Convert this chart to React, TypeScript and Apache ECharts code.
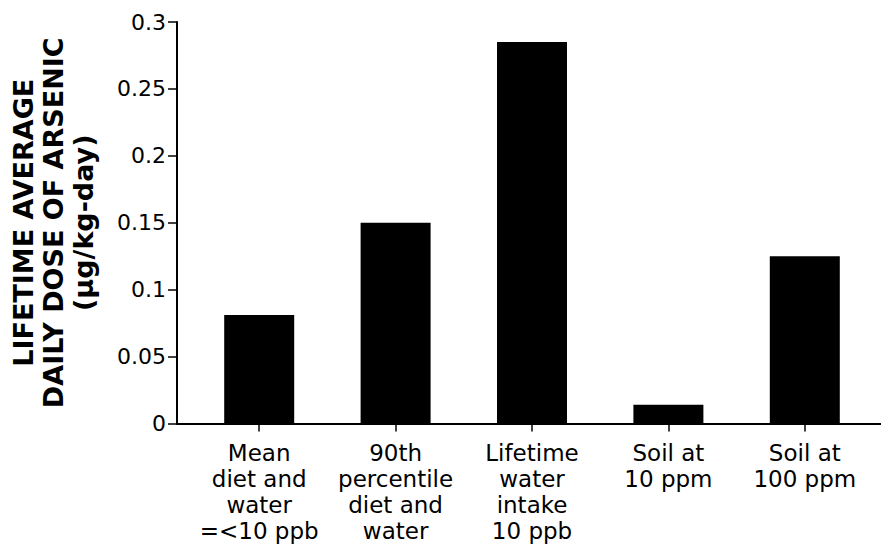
import React, { useEffect, useRef } from "react";
import * as echarts from "echarts";

const categories = [
  "Mean\ndiet and\nwater\n=<10 ppb",
  "90th\npercentile\ndiet and\nwater",
  "Lifetime\nwater\nintake\n10 ppb",
  "Soil at\n10 ppm",
  "Soil at\n100 ppm",
];
const doseValues = [0.081, 0.15, 0.285, 0.014, 0.125];
const yAxisTitle = "LIFETIME AVERAGE\nDAILY DOSE OF ARSENIC\n(µg/kg-day)";

export default function App() {
  const ref = useRef<HTMLDivElement>(null);
  useEffect(() => {
    document.body.style.margin = "0";
    if (!ref.current) return;
    const chart = echarts.init(ref.current, undefined, { renderer: "svg" });
    const font = "DejaVu Sans";
    chart.setOption({
      animation: false,
      backgroundColor: "#ffffff",
      grid: [
        { left: 191, right: 8, top: 22, bottom: 122.5 },
        { left: 177, right: 0, top: 22, bottom: 122.5 },
      ],
      xAxis: [
        {
          type: "category",
          gridIndex: 0,
          data: categories,
          axisLine: { show: false },
          axisTick: {
            show: true,
            alignWithLabel: true,
            length: 8,
            lineStyle: { color: "#000", width: 1.5 },
          },
          axisLabel: {
            color: "#000",
            fontFamily: font,
            fontSize: 23,
            lineHeight: 26,
            margin: 16,
            interval: 0,
          },
          splitLine: { show: false },
        },
        {
          type: "value",
          gridIndex: 1,
          min: 0,
          max: 1,
          axisLine: { show: true, lineStyle: { color: "#000", width: 2 } },
          axisTick: { show: false },
          axisLabel: { show: false },
          splitLine: { show: false },
        },
      ],
      yAxis: [
        {
          type: "value",
          gridIndex: 0,
          min: 0,
          max: 0.3,
          interval: 0.05,
          offset: 14,
          axisLine: { show: true, lineStyle: { color: "#000", width: 2 } },
          axisTick: { show: true, length: 9, lineStyle: { color: "#000", width: 1.5 } },
          axisLabel: {
            color: "#000",
            fontFamily: font,
            fontSize: 22,
            margin: 11,
          },
          splitLine: { show: false },
          name: yAxisTitle,
          nameLocation: "middle",
          nameRotate: 90,
          nameGap: 124,
          nameTextStyle: {
            color: "#000",
            fontFamily: font,
            fontWeight: "bold",
            fontSize: 27,
            lineHeight: 30,
            align: "center",
            verticalAlign: "middle",
          },
        },
        {
          type: "value",
          gridIndex: 1,
          show: false,
        },
      ],
      series: [
        {
          type: "bar",
          xAxisIndex: 0,
          yAxisIndex: 0,
          data: doseValues,
          barWidth: 70,
          itemStyle: { color: "#000" },
        },
      ],
    });
    return () => chart.dispose();
  }, []);
  return <div ref={ref} style={{ width: 881, height: 546 }} />;
}
